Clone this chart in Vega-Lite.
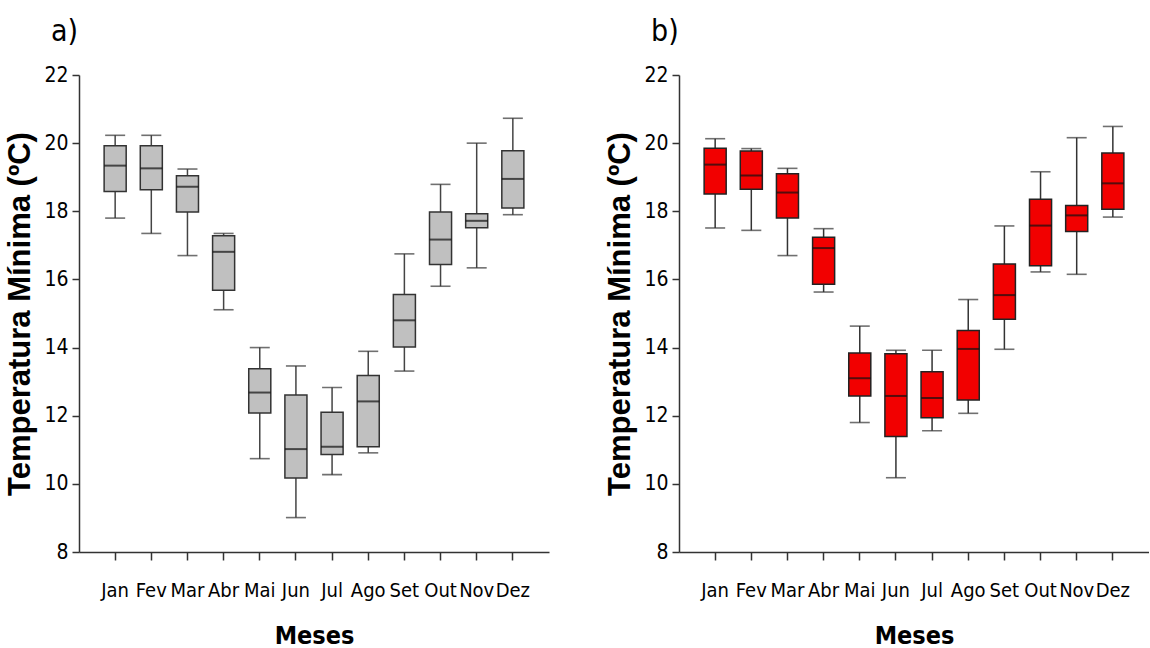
{
  "$schema": "https://vega.github.io/schema/vega-lite/v6.json",
  "background": "white",
  "padding": {"left": 4, "top": 17, "right": 0, "bottom": 0},
  "datasets": {
    "box": [
      {"panel": "a", "mes": "Jan", "min": 17.80, "q1": 18.58, "med": 19.34, "q3": 19.92, "max": 20.23},
      {"panel": "a", "mes": "Fev", "min": 17.35, "q1": 18.63, "med": 19.26, "q3": 19.92, "max": 20.23},
      {"panel": "a", "mes": "Mar", "min": 16.70, "q1": 17.98, "med": 18.72, "q3": 19.04, "max": 19.24},
      {"panel": "a", "mes": "Abr", "min": 15.11, "q1": 15.68, "med": 16.81, "q3": 17.28, "max": 17.35},
      {"panel": "a", "mes": "Mai", "min": 10.74, "q1": 12.08, "med": 12.68, "q3": 13.38, "max": 14.00},
      {"panel": "a", "mes": "Jun", "min": 9.01, "q1": 10.17, "med": 11.02, "q3": 12.61, "max": 13.46},
      {"panel": "a", "mes": "Jul", "min": 10.27, "q1": 10.86, "med": 11.09, "q3": 12.10, "max": 12.83},
      {"panel": "a", "mes": "Ago", "min": 10.91, "q1": 11.09, "med": 12.42, "q3": 13.18, "max": 13.89},
      {"panel": "a", "mes": "Set", "min": 13.31, "q1": 14.02, "med": 14.80, "q3": 15.56, "max": 16.75},
      {"panel": "a", "mes": "Out", "min": 15.80, "q1": 16.44, "med": 17.17, "q3": 17.98, "max": 18.79},
      {"panel": "a", "mes": "Nov", "min": 16.34, "q1": 17.52, "med": 17.72, "q3": 17.93, "max": 20.00},
      {"panel": "a", "mes": "Dez", "min": 17.90, "q1": 18.10, "med": 18.95, "q3": 19.78, "max": 20.73},
      {"panel": "b", "mes": "Jan", "min": 17.51, "q1": 18.51, "med": 19.37, "q3": 19.85, "max": 20.13},
      {"panel": "b", "mes": "Fev", "min": 17.44, "q1": 18.65, "med": 19.05, "q3": 19.77, "max": 19.84},
      {"panel": "b", "mes": "Mar", "min": 16.70, "q1": 17.80, "med": 18.55, "q3": 19.10, "max": 19.26},
      {"panel": "b", "mes": "Abr", "min": 15.63, "q1": 15.86, "med": 16.92, "q3": 17.24, "max": 17.49},
      {"panel": "b", "mes": "Mai", "min": 11.80, "q1": 12.58, "med": 13.10, "q3": 13.84, "max": 14.63},
      {"panel": "b", "mes": "Jun", "min": 10.18, "q1": 11.39, "med": 12.58, "q3": 13.82, "max": 13.92},
      {"panel": "b", "mes": "Jul", "min": 11.56, "q1": 11.94, "med": 12.52, "q3": 13.29, "max": 13.92},
      {"panel": "b", "mes": "Ago", "min": 12.07, "q1": 12.46, "med": 13.96, "q3": 14.50, "max": 15.41},
      {"panel": "b", "mes": "Set", "min": 13.95, "q1": 14.83, "med": 15.54, "q3": 16.45, "max": 17.57},
      {"panel": "b", "mes": "Out", "min": 16.22, "q1": 16.40, "med": 17.58, "q3": 18.35, "max": 19.16},
      {"panel": "b", "mes": "Nov", "min": 16.15, "q1": 17.41, "med": 17.88, "q3": 18.17, "max": 20.16},
      {"panel": "b", "mes": "Dez", "min": 17.83, "q1": 18.06, "med": 18.82, "q3": 19.71, "max": 20.49}
    ]
  },
  "data": {"name": "box"},
  "spacing": 55,
  "hconcat": [
    {
      "width": 470,
      "height": 477,
      "title": {"text": "a)", "anchor": "start", "frame": "group", "dx": -28, "offset": 17},
      "transform": [{"filter": "datum.panel === 'a'"}],
      "encoding": {
        "x": {"field": "mes", "type": "nominal", "sort": ["Jan","Fev","Mar","Abr","Mai","Jun","Jul","Ago","Set","Out","Nov","Dez"], "scale": {"paddingInner": 0.39, "paddingOuter": 0.695}, "title": "Meses"}
      },
      "layer": [
        {"mark": {"type": "rule", "color": "#444", "strokeWidth": 1.5},
         "encoding": {"y": {"field": "min", "type": "quantitative", "title": "Temperatura Mínima (ºC)", "scale": {"domain": [8, 22], "nice": false, "zero": false}, "axis": {"values": [8, 10, 12, 14, 16, 18, 20, 22]}}, "y2": {"field": "q1"}}},
        {"mark": {"type": "rule", "color": "#444", "strokeWidth": 1.5},
         "encoding": {"y": {"field": "q3", "type": "quantitative", "title": "Temperatura Mínima (ºC)", "scale": {"domain": [8, 22], "nice": false, "zero": false}}, "y2": {"field": "max"}}},
        {"mark": {"type": "tick", "size": 20, "thickness": 1.6, "color": "#333"},
         "encoding": {"y": {"field": "min", "type": "quantitative", "title": "Temperatura Mínima (ºC)", "scale": {"domain": [8, 22], "nice": false, "zero": false}}}},
        {"mark": {"type": "tick", "size": 20, "thickness": 1.6, "color": "#333"},
         "encoding": {"y": {"field": "max", "type": "quantitative", "title": "Temperatura Mínima (ºC)", "scale": {"domain": [8, 22], "nice": false, "zero": false}}}},
        {"mark": {"type": "bar", "fill": "#c0c0c0", "stroke": "#333", "strokeWidth": 1.5},
         "encoding": {"y": {"field": "q1", "type": "quantitative", "title": "Temperatura Mínima (ºC)", "scale": {"domain": [8, 22], "nice": false, "zero": false}}, "y2": {"field": "q3"}}},
        {"mark": {"type": "tick", "size": 22, "thickness": 2, "color": "#111"},
         "encoding": {"y": {"field": "med", "type": "quantitative", "title": "Temperatura Mínima (ºC)", "scale": {"domain": [8, 22], "nice": false, "zero": false}}}}
      ]
    },
    {
      "width": 470,
      "height": 477,
      "title": {"text": "b)", "anchor": "start", "frame": "group", "dx": -28, "offset": 17},
      "transform": [{"filter": "datum.panel === 'b'"}],
      "encoding": {
        "x": {"field": "mes", "type": "nominal", "sort": ["Jan","Fev","Mar","Abr","Mai","Jun","Jul","Ago","Set","Out","Nov","Dez"], "scale": {"paddingInner": 0.39, "paddingOuter": 0.695}, "title": "Meses"}
      },
      "layer": [
        {"mark": {"type": "rule", "color": "#333", "strokeWidth": 1.5},
         "encoding": {"y": {"field": "min", "type": "quantitative", "title": "Temperatura Mínima (ºC)", "scale": {"domain": [8, 22], "nice": false, "zero": false}, "axis": {"values": [8, 10, 12, 14, 16, 18, 20, 22]}}, "y2": {"field": "q1"}}},
        {"mark": {"type": "rule", "color": "#333", "strokeWidth": 1.5},
         "encoding": {"y": {"field": "q3", "type": "quantitative", "title": "Temperatura Mínima (ºC)", "scale": {"domain": [8, 22], "nice": false, "zero": false}}, "y2": {"field": "max"}}},
        {"mark": {"type": "tick", "size": 20, "thickness": 1.6, "color": "#333"},
         "encoding": {"y": {"field": "min", "type": "quantitative", "title": "Temperatura Mínima (ºC)", "scale": {"domain": [8, 22], "nice": false, "zero": false}}}},
        {"mark": {"type": "tick", "size": 20, "thickness": 1.6, "color": "#333"},
         "encoding": {"y": {"field": "max", "type": "quantitative", "title": "Temperatura Mínima (ºC)", "scale": {"domain": [8, 22], "nice": false, "zero": false}}}},
        {"mark": {"type": "bar", "fill": "#f20000", "stroke": "#222", "strokeWidth": 1.5},
         "encoding": {"y": {"field": "q1", "type": "quantitative", "title": "Temperatura Mínima (ºC)", "scale": {"domain": [8, 22], "nice": false, "zero": false}}, "y2": {"field": "q3"}}},
        {"mark": {"type": "tick", "size": 22, "thickness": 2, "color": "#111"},
         "encoding": {"y": {"field": "med", "type": "quantitative", "title": "Temperatura Mínima (ºC)", "scale": {"domain": [8, 22], "nice": false, "zero": false}}}}
      ]
    }
  ],
  "config": {
    "view": {"stroke": null},
    "title": {"font": "'DejaVu Sans Condensed', 'Liberation Sans', sans-serif", "fontSize": 30, "fontWeight": "normal", "color": "#000"},
    "axis": {
      "grid": false,
      "domainColor": "#333",
      "domainWidth": 1.5,
      "tickColor": "#333",
      "tickWidth": 1.5,
      "labelFont": "'DejaVu Sans Condensed', 'Liberation Sans', sans-serif",
      "labelFontSize": 20,
      "labelColor": "#000",
      "titleColor": "#000"
    },
    "axisX": {
      "labelAngle": 0,
      "tickSize": 8,
      "labelPadding": 20,
      "titlePadding": 23,
      "titleFont": "'DejaVu Sans Condensed', 'Liberation Sans', sans-serif",
      "titleFontSize": 25,
      "titleFontWeight": "bold"
    },
    "axisY": {
      "tickSize": 7,
      "labelPadding": 4,
      "titlePadding": 7,
      "labelFontSize": 21,
      "titleFont": "'Liberation Sans', sans-serif",
      "titleFontSize": 31,
      "titleFontWeight": "bold"
    }
  }
}
